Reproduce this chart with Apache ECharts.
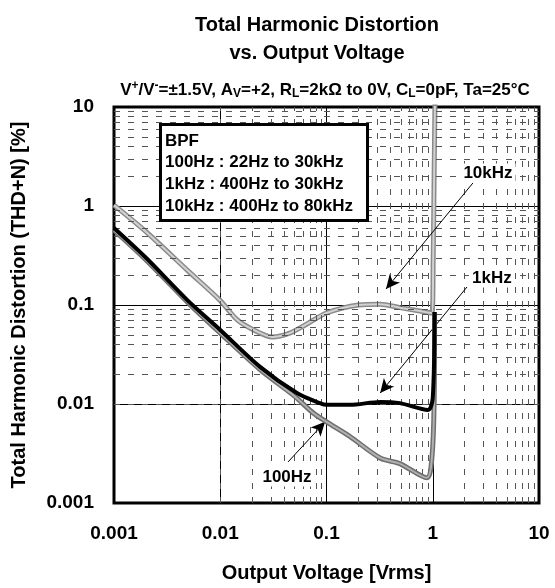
<!DOCTYPE html>
<html>
<head>
<meta charset="utf-8">
<script src="https://cdn.jsdelivr.net/npm/echarts@6/dist/echarts.min.js"></script>
<style>
html,body{margin:0;padding:0;background:#fff;}
#chart{width:555px;height:588px;}
</style>
</head>
<body>
<div id="chart"></div>
<script>
// ---- data ----
var xTicks = [0.001, 0.01, 0.1, 1, 10];
var yTicks = [0.001, 0.01, 0.1, 1, 10];

var v10kHz = [
  [0.001, 1.02], [0.002, 0.55], [0.005, 0.22], [0.0099, 0.112], [0.0144, 0.071],
  [0.02, 0.057], [0.031, 0.0475], [0.045, 0.052], [0.065, 0.064], [0.1, 0.083],
  [0.2, 0.1], [0.32, 0.102], [0.49, 0.094], [0.8, 0.086], [0.98, 0.083],
  [1.01, 0.3], [1.03, 2], [1.05, 12]
];
var v1kHz = [
  [0.001, 0.6], [0.002, 0.3], [0.0049, 0.112], [0.01, 0.056], [0.0237, 0.0237],
  [0.0527, 0.0129], [0.0867, 0.0102], [0.1, 0.0098], [0.166, 0.0098], [0.32, 0.0105],
  [0.49, 0.0102], [0.9, 0.0087], [1.0, 0.0115], [1.04, 0.085]
];
var v100Hz = [
  [0.001, 0.57], [0.002, 0.285], [0.005, 0.105], [0.01, 0.052], [0.024, 0.022],
  [0.05, 0.012], [0.075, 0.0081], [0.1, 0.0066], [0.166, 0.0047], [0.32, 0.00285],
  [0.49, 0.0025], [0.88, 0.0018], [0.98, 0.0028], [1.03, 0.0102], [1.04, 0.085]
];
// annotation arrows: [label, labelPoint, arrowStart, arrowTip] in data units
var notes = [
  ['10kHz', [3.31, 2.15], [2.39, 1.71], [0.363, 0.145]],
  ['1kHz', [3.6, 0.187], [2.1, 0.152], [0.32, 0.0129]],
  ['100Hz', [0.0425, 0.00183], [0.0435, 0.0026], [0.097, 0.0066]]
];
var legendLines = ['BPF', '100Hz : 22Hz to 30kHz', '1kHz : 400Hz to 30kHz', '10kHz : 400Hz to 80kHz'];

// minor grid positions (2..9 x decade)
var minorVals = [];
[0.001, 0.01, 0.1, 1].forEach(function (d) {
  for (var k = 2; k <= 9; k++) minorVals.push(+(d * k).toPrecision(3));
});

var FONT = 'Arial, "Liberation Sans", Helvetica, sans-serif';
var chart = echarts.init(document.getElementById('chart'));

function fmt(v) {
  for (var i = 0; i < xTicks.length; i++) if (Math.abs(v / xTicks[i] - 1) < 1e-6) return String(xTicks[i]);
  return '';
}

var minorStyle = { color: '#555', width: 1, type: [6, 8] };
var minorLines = [];
minorVals.forEach(function (v) { minorLines.push({ xAxis: v }); minorLines.push({ yAxis: v }); });

var arrowLines = notes.map(function (n) {
  return [{ coord: n[2] }, { coord: n[3] }];
});
var labelPoints = notes.map(function (n) {
  return { coord: n[1], value: n[0] };
});

chart.setOption({
  animation: false,
  backgroundColor: '#fff',
  textStyle: { fontFamily: FONT },
  title: [{
    text: 'Total Harmonic Distortion\nvs. Output Voltage',
    left: 312, top: 6, textAlign: 'center',
    textStyle: { fontSize: 20, fontWeight: 'bold', color: '#000', lineHeight: 28, fontFamily: FONT }
  }, {
    text: '{n|V}{sup|+}{n|/V}{sup|-}{n|=±1.5V, A}{sub|V}{n|=+2, R}{sub|L}{n|=2kΩ to 0V, C}{sub|L}{n|=0pF, Ta=25°C}',
    left: 320, top: 75, textAlign: 'center',
    textStyle: {
      rich: {
        n: { fontSize: 17, fontWeight: 'bold', color: '#000', fontFamily: FONT, lineHeight: 20 },
        sup: { fontSize: 12, fontWeight: 'bold', color: '#000', fontFamily: FONT, verticalAlign: 'top', lineHeight: 20, padding: [0, 0, 7, 0] },
        sub: { fontSize: 12, fontWeight: 'bold', color: '#000', fontFamily: FONT, verticalAlign: 'bottom', lineHeight: 20, padding: [7, 0, 0, 0] }
      }
    }
  }],
  grid: { left: 114, right: 16, top: 107, bottom: 85, show: true, borderColor: '#000', borderWidth: 3, backgroundColor: 'transparent' },
  xAxis: {
    type: 'log', logBase: 10, min: 0.001, max: 10,
    name: 'Output Voltage [Vrms]', nameLocation: 'middle', nameGap: 60,
    nameTextStyle: { fontSize: 20, fontWeight: 'bold', color: '#000', fontFamily: FONT },
    axisLine: { show: false }, axisTick: { show: false },
    axisLabel: { fontSize: 19, fontWeight: 'bold', color: '#000', margin: 21, formatter: fmt, fontFamily: FONT },
    splitLine: { show: true, lineStyle: { color: '#000', width: 1 } },
    minorTick: { show: false }, minorSplitLine: { show: false }
  },
  yAxis: {
    type: 'log', logBase: 10, min: 0.001, max: 10,
    name: 'Total Harmonic Distortion (THD+N) [%]', nameLocation: 'middle', nameGap: 85, nameRotate: 90,
    nameTextStyle: { fontSize: 20, fontWeight: 'bold', color: '#000', fontFamily: FONT },
    axisLine: { show: false }, axisTick: { show: false },
    axisLabel: { fontSize: 19, fontWeight: 'bold', color: '#000', margin: 20, formatter: fmt, fontFamily: FONT },
    splitLine: { show: true, lineStyle: { color: '#000', width: 1 } },
    minorTick: { show: false }, minorSplitLine: { show: false }
  },
  graphic: [{
    type: 'rect', left: 159, top: 123, z: 100, zlevel: 1,
    shape: { x: 0, y: 0, width: 207, height: 96 },
    style: { fill: '#fff', stroke: '#000', lineWidth: 3 }
  }, {
    type: 'text', left: 165, top: 130, z: 101, zlevel: 1,
    style: { text: legendLines.join('\n'), font: 'bold 17px ' + FONT, fill: '#000', lineHeight: 21.7 }
  }],
  series: [{
    name: 'grid-minor', type: 'line', data: [], silent: true,
    markLine: { silent: true, symbol: 'none', label: { show: false }, lineStyle: minorStyle, data: minorLines, animation: false }
  }, {
    name: '10kHz-outer', type: 'line', data: v10kHz, symbol: 'none', smooth: 0.3, z: 3,
    lineStyle: { color: '#8a8a8a', width: 5 }
  }, {
    name: '10kHz', type: 'line', data: v10kHz, symbol: 'none', smooth: 0.3, z: 4,
    lineStyle: { color: '#d2d2d2', width: 2 }
  }, {
    name: '100Hz-outer', type: 'line', data: v100Hz, symbol: 'none', smooth: 0.3, z: 5,
    lineStyle: { color: '#6e6e6e', width: 5 }
  }, {
    name: '100Hz', type: 'line', data: v100Hz, symbol: 'none', smooth: 0.3, z: 6,
    lineStyle: { color: '#b0b0b0', width: 2 }
  }, {
    name: '1kHz', type: 'line', data: v1kHz, symbol: 'none', smooth: 0.3, z: 7,
    lineStyle: { color: '#000', width: 4 }
  }, {
    name: 'notes', type: 'line', data: [], z: 8,
    markLine: {
      silent: true, symbol: ['none', 'arrow'], symbolSize: [10, 14], label: { show: false },
      lineStyle: { color: '#000', width: 1, type: 'solid' }, data: arrowLines, animation: false
    },
    markPoint: {
      silent: true, symbol: 'rect', symbolSize: 0,
      label: { show: true, position: 'inside', formatter: '{c}', fontSize: 17, fontWeight: 'bold', color: '#000', fontFamily: FONT, backgroundColor: '#fff', padding: [1, 3] },
      data: labelPoints, animation: false
    }
  }]
});
</script>
</body>
</html>
